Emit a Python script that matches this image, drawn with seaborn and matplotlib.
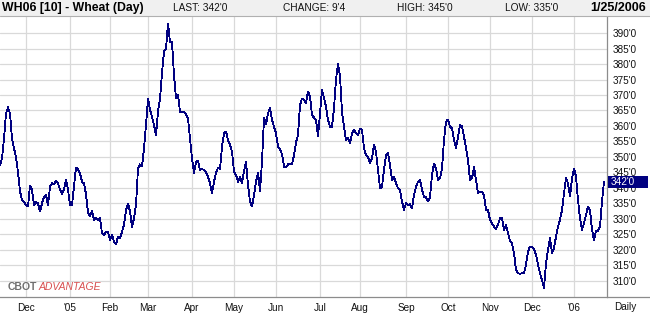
import numpy as np
import pandas as pd
import matplotlib
matplotlib.use("Agg")
import matplotlib.pyplot as plt
import matplotlib.transforms as mtransforms
from matplotlib.patches import Rectangle
import seaborn as sns

# ---------------- data ----------------
HOLIDAYS = ['2004-11-25', '2004-12-24', '2005-01-17', '2005-02-21', '2005-03-25',
            '2005-05-30', '2005-07-04', '2005-09-05', '2005-11-24', '2005-12-26',
            '2006-01-02', '2006-01-16']
LAST_DATE = '2006-01-25'
PRICES = [
    347.4, 349.6, 356.0, 364.0, 366.0, 364.0, 356.0, 352.8, 350.0, 345.0,
    339.0, 336.0, 335.4, 334.5, 334.0, 340.8, 339.4, 334.5, 335.4, 335.0,
    332.4, 335.0, 337.2, 337.7, 334.5, 340.4, 341.5, 341.2, 342.3, 341.5,
    339.4, 338.0, 339.4, 342.6, 339.4, 334.5, 334.5, 340.4, 346.6, 346.1,
    344.7, 342.0, 341.5, 338.0, 332.0, 331.0, 332.6, 329.7, 330.4, 329.7,
    330.2, 325.4, 324.8, 325.7, 325.9, 323.2, 324.8, 322.7, 321.8, 324.3,
    323.8, 325.9, 328.0, 332.9, 335.0, 332.4, 327.5, 330.2, 334.5, 346.3,
    347.6, 346.9, 352.8, 360.3, 368.9, 365.2, 363.0, 360.3, 357.1, 364.6,
    368.9, 377.0, 384.0, 385.0, 393.1, 387.0, 387.0, 376.4, 368.9, 370.0,
    364.6, 364.6, 364.4, 363.8, 362.5, 356.0, 349.6, 344.7, 348.5, 348.7,
    345.8, 346.1, 345.8, 345.0, 343.6, 341.5, 338.3, 342.0, 345.0, 346.5,
    346.1, 353.3, 357.6, 358.2, 355.5, 353.9, 351.7, 345.3, 344.2, 342.0,
    343.6, 341.5, 345.3, 348.5, 341.0, 335.6, 334.0, 337.7, 342.0, 345.0,
    339.0, 348.5, 362.5, 360.5, 364.1, 365.9, 361.9, 359.8, 357.6, 353.3,
    352.5, 350.9, 346.9, 346.6, 347.6, 347.6, 347.6, 350.6, 354.7, 357.1,
    366.8, 368.9, 368.4, 367.3, 371.1, 369.5, 363.5, 362.7, 361.9, 356.6,
    364.1, 371.6, 369.1, 366.2, 361.9, 359.8, 359.8, 365.7, 375.0, 380.0,
    376.0, 364.5, 359.8, 355.5, 356.0, 354.4, 357.6, 358.7, 357.6, 357.1,
    359.2, 358.7, 352.8, 350.6, 350.1, 348.0, 349.6, 353.9, 351.7, 345.8,
    339.9, 340.4, 345.8, 350.6, 351.2, 347.4, 342.6, 343.6, 341.5, 339.9,
    339.4, 335.6, 332.9, 335.1, 334.5, 334.7, 333.4, 337.7, 340.4, 342.0,
    342.6, 339.4, 337.2, 337.0, 335.6, 337.0, 344.2, 347.9, 346.3, 342.6,
    343.1, 346.3, 355.5, 361.4, 362.1, 359.8, 359.2, 355.5, 352.8, 356.6,
    360.3, 360.0, 356.6, 352.8, 349.0, 342.6, 343.1, 346.7, 342.6, 338.3,
    338.8, 338.8, 337.7, 332.9, 332.9, 329.7, 328.6, 327.5, 326.7, 328.1,
    330.2, 330.2, 326.5, 328.1, 325.4, 323.0, 322.0, 319.0, 313.5, 312.5,
    312.3, 312.5, 312.5, 315.2, 319.5, 321.1, 321.1, 320.2, 318.4, 315.2,
    312.5, 310.3, 307.6, 315.7, 320.0, 323.8, 318.9, 320.5, 324.3, 327.5,
    329.7, 332.9, 338.3, 343.1, 341.5, 337.2, 343.1, 346.3, 343.7, 336.1,
    330.2, 326.5, 328.6, 331.3, 334.0, 332.9, 326.5, 323.2, 326.2, 326.2,
    327.5, 335.6, 342.0,
]
Y_TICKS = list(range(310, 395, 5))
TITLE = "WH06 [10] - Wheat (Day)"
HEADER_ITEMS = ["LAST: 342'0", "CHANGE: 9'4", "HIGH: 345'0", "LOW: 335'0"]
HEADER_DATE = "1/25/2006"

# ---------------- frame ----------------
dates = pd.bdate_range(end=LAST_DATE, periods=len(PRICES), freq='C', holidays=HOLIDAYS)
df = pd.DataFrame({"pos": np.arange(len(PRICES)), "date": dates, "price": PRICES})
month_start = df.index[df["date"].dt.month != df["date"].dt.month.shift()].tolist()[1:]
month_labels = [("'%02d" % (d.year % 100)) if d.month == 1 else d.strftime('%b')
                for d in df.loc[month_start, "date"]]

sns.set_style("white")
FONT = ['Liberation Sans', 'DejaVu Sans']
NARROW = ['Liberation Sans Narrow', 'Liberation Sans', 'DejaVu Sans']
plt.rcParams['font.family'] = FONT

W, H = 650, 314
fig = plt.figure(figsize=(W / 100, H / 100), dpi=100)
fig.patch.set_facecolor('white')

ax_left, ax_right, ax_top, ax_bot = 0, 607, 16, 297
ax = fig.add_axes([ax_left / W, 1 - ax_bot / H, (ax_right - ax_left) / W, (ax_bot - ax_top) / H])

sns.lineplot(data=df, x="pos", y="price", ax=ax, color='#000080', linewidth=0.6,
             antialiased=False, zorder=3)

YMIN, YMAX = 304.8, 395.5
ax.set_xlim(0, 303.5)
ax.set_ylim(YMIN, YMAX)
ax.set_xticks(month_start)
ax.set_xticklabels(month_labels)
ax.set_yticks(Y_TICKS)
ax.set_yticklabels([f"{v}'0" for v in Y_TICKS])
ax.yaxis.tick_right()
ax.tick_params(axis='y', length=0, pad=4, labelsize=7.2, labelcolor='#111111')
ax.tick_params(axis='x', length=0, pad=4.5, labelsize=7.2, labelcolor='#111111')
ax.set_xlabel("")
ax.set_ylabel("")
ax.grid(True, color='#d9d9d9', linewidth=0.9)
ax.set_axisbelow(True)
for side in ['top', 'left']:
    ax.spines[side].set_visible(False)
for side in ['right', 'bottom']:
    ax.spines[side].set_color('#8c8c8c')
    ax.spines[side].set_linewidth(0.9)

# bottom rule continuing under the price axis
fig.add_artist(plt.Line2D([ax_right / W, 1], [1 - ax_bot / H] * 2, color='#8c8c8c', lw=0.9))
fig.text(625 / W, 1 - 307.5 / H, "Daily", ha='center', va='center', fontsize=7.2,
         color='#111111')

# current value box
last = PRICES[-1]
blend = mtransforms.blended_transform_factory(fig.transFigure, ax.transData)
box_h = 12 / ((ax_bot - ax_top) / (YMAX - YMIN))
ax.add_patch(Rectangle((608 / W, last - box_h / 2), 40 / W, box_h, transform=blend,
                       facecolor='#000080', edgecolor='none', clip_on=False, zorder=5))
ax.text(611 / W, last, f"{last:.0f}'0", transform=blend, ha='left', va='center',
        color='white', fontsize=7.2, zorder=6, clip_on=False)

# header bar
fig.add_artist(Rectangle((0, 1 - ax_top / H), 1, ax_top / H, transform=fig.transFigure,
                         facecolor='#f0f0f0', edgecolor='none'))
fig.add_artist(plt.Line2D([0, 1], [1 - ax_top / H] * 2, color='#b0b0b0', lw=0.8))
hy = 1 - 8 / H
fig.text(2 / W, hy, TITLE, ha='left', va='center', fontsize=8.8, fontweight='bold',
         family=NARROW, color='black')
for xpos, txt in zip([173, 283, 397, 505], HEADER_ITEMS):
    fig.text(xpos / W, hy, txt, ha='left', va='center', fontsize=7.3, color='#111111')
fig.text(646 / W, hy, HEADER_DATE, ha='right', va='center', fontsize=9, fontweight='bold',
         family=NARROW, color='black')

# logo
fig.text(8 / W, 1 - 287 / H, "CBOT", ha='left', va='center', fontsize=7.5,
         fontweight='bold', color='#6e6e6e')
fig.text(39 / W, 1 - 287 / H, "ADVANTAGE", ha='left', va='center', fontsize=7.5,
         fontstyle='italic', color='#d85050')

fig.savefig("out.png", dpi=100)
